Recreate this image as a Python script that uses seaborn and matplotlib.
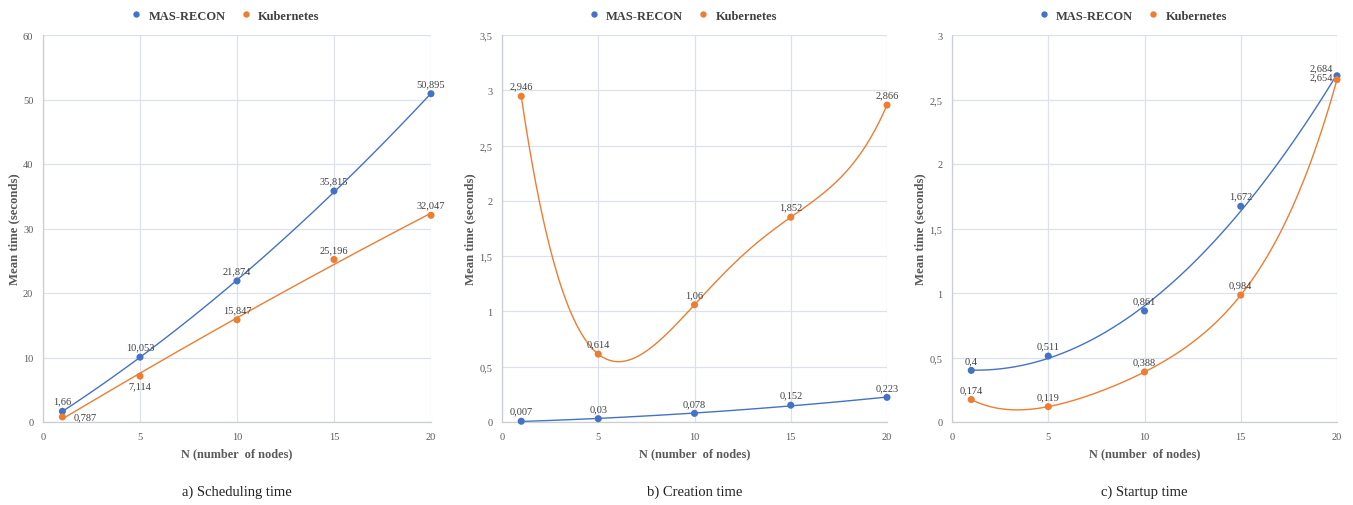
import numpy as np
import pandas as pd
import matplotlib
matplotlib.use("Agg")
import matplotlib.pyplot as plt
from matplotlib.ticker import FuncFormatter, MultipleLocator
import seaborn as sns

# data
nodes = [1, 5, 10, 15, 20]
systems = ["MAS-RECON", "Kubernetes"]

sched_mas = [1.66, 10.053, 21.874, 35.815, 50.895]
sched_k8s = [0.787, 7.114, 15.847, 25.196, 32.047]
create_mas = [0.007, 0.03, 0.078, 0.152, 0.223]
create_k8s = [2.946, 0.614, 1.06, 1.852, 2.866]
start_mas = [0.4, 0.511, 0.861, 1.672, 2.684]
start_k8s = [0.174, 0.119, 0.388, 0.984, 2.654]

captions = ["a) Scheduling time", "b) Creation time", "c) Startup time"]
y_max = [60, 3.5, 3]
y_step = [10, 0.5, 0.5]

sns.set_theme(style="white")
plt.rcParams["font.family"] = ["Liberation Serif", "DejaVu Serif"]

palette = {"MAS-RECON": "#4472C4", "Kubernetes": "#ED7D31"}
# trendline polynomial orders, per panel, per system
orders = [(2, 2), (2, 4), (2, 4)]
# label offsets (points), h/v alignment; default is centred above the point
default_label = ((0, 4), "center", "bottom")
label_tweaks = {
    (0, "Kubernetes", 0): ((8, 0), "left", "center"),
    (0, "Kubernetes", 1): ((0, -4), "center", "top"),
    (2, "MAS-RECON", 4): ((-3, 6), "right", "center"),
    (2, "Kubernetes", 4): ((-3, 2), "right", "center"),
}

panels = [(sched_mas, sched_k8s), (create_mas, create_k8s), (start_mas, start_k8s)]
lefts = [43, 502, 952]
widths = [388, 385, 385]

W, H = 1353, 506
fig = plt.figure(figsize=(W / 100, H / 100), dpi=100)


def comma(v, pos=None):
    return f"{v:g}".replace(".", ",")


for i, (mas, k8s) in enumerate(panels):
    ax = fig.add_axes([lefts[i] / W, (H - 423) / H, widths[i] / W, 387 / H])
    df = pd.DataFrame({
        "nodes": nodes * 2,
        "value": mas + k8s,
        "system": [systems[0]] * len(nodes) + [systems[1]] * len(nodes),
    })

    for j, name in enumerate(systems):
        sub = df[df["system"] == name]
        sns.regplot(data=sub, x="nodes", y="value", order=orders[i][j], ci=None,
                    scatter=False, truncate=True, ax=ax,
                    line_kws={"color": palette[name], "lw": 1.0})

    sns.scatterplot(data=df, x="nodes", y="value", hue="system", palette=palette,
                    s=26, edgecolor="none", ax=ax, zorder=4, clip_on=False)

    for j, name in enumerate(systems):
        sub = df[df["system"] == name].reset_index(drop=True)
        for k, row in sub.iterrows():
            off, ha, va = label_tweaks.get((i, name, k), default_label)
            ax.annotate(comma(row["value"]), (row["nodes"], row["value"]),
                        xytext=off, textcoords="offset points", ha=ha, va=va,
                        fontsize=7.5, color="#404040", zorder=5)

    ax.set_xlim(0, 20)
    ax.set_ylim(0, y_max[i])
    ax.xaxis.set_major_locator(MultipleLocator(5))
    ax.yaxis.set_major_locator(MultipleLocator(y_step[i]))
    ax.yaxis.set_major_formatter(FuncFormatter(comma))
    ax.tick_params(length=0, labelsize=7.5, labelcolor="#595959", pad=7)
    ax.grid(True, color="#dde1ea", lw=0.9)
    for side in ["top", "right"]:
        ax.spines[side].set_visible(False)
    for side in ["left", "bottom"]:
        ax.spines[side].set_color("#c9cdd6")
        ax.spines[side].set_linewidth(0.9)

    ax.set_xlabel("N (number  of nodes)", fontsize=8.8, fontweight="bold",
                  color="#595959", labelpad=5)
    ax.set_ylabel("Mean time (seconds)", fontsize=9.2, fontweight="bold",
                  color="#595959", labelpad=2)

    sns.move_legend(ax, "lower center", bbox_to_anchor=(0.46, 1.005), ncol=2,
                    frameon=False, title=None, handletextpad=0.0,
                    columnspacing=0.6, markerscale=0.9,
                    prop={"weight": "bold", "size": 9})
    for t in ax.get_legend().get_texts():
        t.set_color("#404040")

    fig.text((lefts[i] + widths[i] / 2) / W, 1 - 492 / H, captions[i],
             ha="center", va="center", fontsize=10.5, color="#222222")

fig.savefig("out.png", dpi=100)
